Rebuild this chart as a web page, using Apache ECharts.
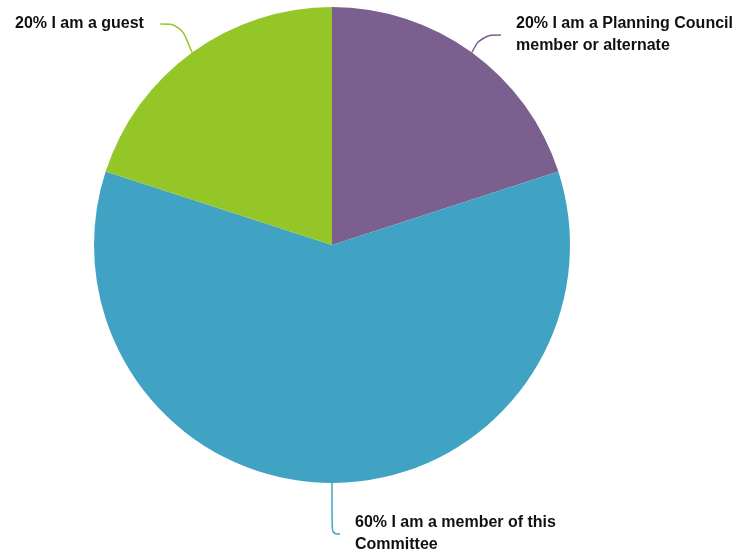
<!DOCTYPE html>
<html>
<head>
<meta charset="utf-8">
<script src="https://cdn.jsdelivr.net/npm/echarts@6/dist/echarts.min.js"></script>
<style>
  html, body { margin: 0; padding: 0; background: #fff; }
  #chart { width: 740px; height: 555px; }
</style>
</head>
<body>
<div id="chart"></div>
<script>
// 回答类别（从顶部顺时针）
const categories = [
  'I am a Planning Council\nmember or alternate',
  'I am a member of this\nCommittee',
  'I am a guest'
]
const shares = [20, 60, 20]
const colors = ['#7B5F8F', '#41A3C3', '#95C627']

// 标签位置（手动摆放），padding 用来在引线和文字之间留空
const labelSpots = [
  { x: 501, y: 35, padding: [0, 0, 0, 15] },
  { x: 340, y: 534, padding: [0, 0, 0, 15] },
  { x: 15, y: 24, padding: [0, 16, 0, 0] }
]

const chart = echarts.init(document.getElementById('chart'))

chart.setOption({
  animation: false,
  series: [
    {
      type: 'pie',
      center: [332, 245],
      radius: [0, 238],
      startAngle: 90,
      clockwise: true,
      data: categories.map((name, i) => ({
        name,
        value: shares[i],
        itemStyle: { color: colors[i] },
        label: { padding: labelSpots[i].padding }
      })),
      label: {
        show: true,
        formatter: (p) => `${p.value}% ${p.name}`,
        fontFamily: '"Liberation Sans", Arial, sans-serif',
        fontWeight: 'bold',
        fontSize: 16,
        lineHeight: 22,
        color: '#111',
        overflow: 'none'
      },
      labelLine: {
        show: true,
        smooth: 0.4,
        length: 20,
        length2: 20,
        lineStyle: { width: 1.5 }
      },
      labelLayout: (params) => {
        const s = labelSpots[params.dataIndex]
        return { x: s.x, y: s.y, align: 'left', verticalAlign: 'middle' }
      }
    }
  ]
})
</script>
</body>
</html>
